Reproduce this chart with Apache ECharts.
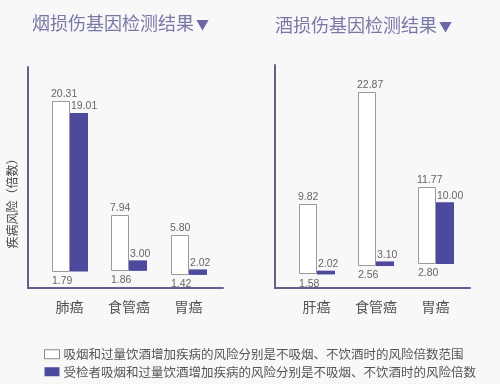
<!DOCTYPE html>
<html><head><meta charset="utf-8">
<script src="https://cdn.jsdelivr.net/npm/echarts@6/dist/echarts.min.js"></script>
<style>html,body{margin:0;padding:0;background:#f8f8f9}#c{width:500px;height:384px}</style>
</head><body><div id="c"></div>
<script>
// Data
const smokeCats = ['肺癌', '食管癌', '胃癌'];
const smokeLow = [1.79, 1.86, 1.42];
const smokeHigh = [20.31, 7.94, 5.80];
const smokeVal = [19.01, 3.00, 2.02];

const drinkCats = ['肝癌', '食管癌', '胃癌'];
const drinkLow = [1.58, 2.56, 2.80];
const drinkHigh = [9.82, 22.87, 11.77];
const drinkVal = [2.02, 3.10, 10.00];

const titles = ['烟损伤基因检测结果', '酒损伤基因检测结果'];
const rangeName = '吸烟和过量饮酒增加疾病的风险分别是不吸烟、不饮酒时的风险倍数范围';
const valueName = '受检者吸烟和过量饮酒增加疾病的风险分别是不吸烟、不饮酒时的风险倍数';

const PURPLE = '#4d4a9e';
const AXIS = '#62608f';
const BW = 18;
const CJK = '"Noto Sans CJK SC",sans-serif';
const NUMFONT = {fontFamily: '"Liberation Sans Narrow","Liberation Sans",sans-serif', fontSize: 10.5, fill: '#666'};

function rangeSeries(idx, name, low, top, dx, fill, stroke, showLow, topDx) {
  return {
    type: 'custom', name: name, xAxisIndex: idx, yAxisIndex: idx,
    data: low.map((l, i) => [i, l, top[i]]),
    encode: {x: 0, y: [1, 2]},
    itemStyle: {color: fill, borderColor: stroke || fill, borderWidth: stroke ? 1 : 0},
    renderItem: function (params, api) {
      const i = api.value(0), lo = api.value(1), hi = api.value(2);
      const a = api.coord([i, lo]), b = api.coord([i, hi]);
      let x = Math.round(a[0] + dx);
      const children = [];
      if (stroke) {
        children.push({type: 'rect', shape: {x: x + 0.5, y: Math.round(b[1]) + 0.5, width: BW - 1, height: Math.round(a[1]) - Math.round(b[1]) - 1},
          style: {fill: fill, stroke: stroke, lineWidth: 1}});
      } else {
        children.push({type: 'rect', shape: {x: x, y: b[1], width: BW, height: a[1] - b[1]}, style: {fill: fill}});
      }
      children.push({type: 'text', x: x + topDx, y: b[1] - 1,
        style: Object.assign({text: hi.toFixed(2), align: 'left', verticalAlign: 'bottom'}, NUMFONT)});
      if (showLow) {
        children.push({type: 'text', x: x, y: a[1] + 4,
          style: Object.assign({text: lo.toFixed(2), align: 'left', verticalAlign: 'top'}, NUMFONT)});
      }
      return {type: 'group', children: children};
    }
  };
}

function panelSeries(idx, low, high, val) {
  return [
    rangeSeries(idx, rangeName, low, high, -BW, '#ffffff', '#9a9a9a', true, -1),
    rangeSeries(idx, valueName, low, val, 0, PURPLE, null, false, 1)
  ];
}

function xAx(idx, cats) {
  return {type: 'value', gridIndex: idx, min: -0.7, max: 2.58,
    axisLine: {show: true, onZero: false, lineStyle: {color: AXIS, width: 2}},
    axisTick: {show: false}, splitLine: {show: false},
    axisLabel: {customValues: [0, 1, 2], formatter: v => cats[Math.round(v)] || '',
      fontSize: 14, color: '#555', margin: 12, fontFamily: CJK}};
}
function yAx(idx, max, name) {
  return {type: 'value', gridIndex: idx, min: 0, max: max,
    axisLine: {show: true, onZero: false, lineStyle: {color: AXIS, width: 2}},
    axisTick: {show: false}, splitLine: {show: false}, axisLabel: {show: false},
    name: name || '', nameLocation: 'middle', nameGap: 10, nameRotate: 90,
    nameTextStyle: {fontSize: 12, color: '#444', fontFamily: CJK, padding: [0, 46, 0, 0]}};
}

function titleOpt(text, left, top) {
  return {text: text + '{t|▼}', left: left, top: top,
    textStyle: {fontSize: 18, color: '#7a78a6', fontWeight: 'normal', fontFamily: CJK,
      rich: {t: {fontSize: 13, color: '#6c68a8', padding: [2, 0, 0, 2]}}}};
}

const chart = echarts.init(document.getElementById('c'), null, {renderer: 'canvas'});
chart.setOption({
  backgroundColor: '#f8f8f9',
  animation: false,
  title: [titleOpt(titles[0], 27, 9), titleOpt(titles[1], 270, 11)],
  legend: {orient: 'vertical', left: 39, top: 343, itemWidth: 15, itemHeight: 9, itemGap: 5,
    icon: 'rect', selectedMode: false,
    data: [
      {name: rangeName, itemStyle: {color: '#ffffff', borderColor: '#8a8a8a', borderWidth: 1}},
      {name: valueName, itemStyle: {color: PURPLE, borderWidth: 0}}
    ],
    textStyle: {fontSize: 12.5, color: '#555', fontFamily: CJK, padding: [0, 0, 0, -1]}},
  grid: [
    {left: 28, top: 67, width: 195, height: 221},
    {left: 275, top: 65, width: 195, height: 223}
  ],
  xAxis: [xAx(0, smokeCats), xAx(1, drinkCats)],
  yAxis: [yAx(0, 24, '疾病风险（倍数）'), yAx(1, 26)],
  series: [
    ...panelSeries(0, smokeLow, smokeHigh, smokeVal),
    ...panelSeries(1, drinkLow, drinkHigh, drinkVal)
  ]
});
</script></body></html>
